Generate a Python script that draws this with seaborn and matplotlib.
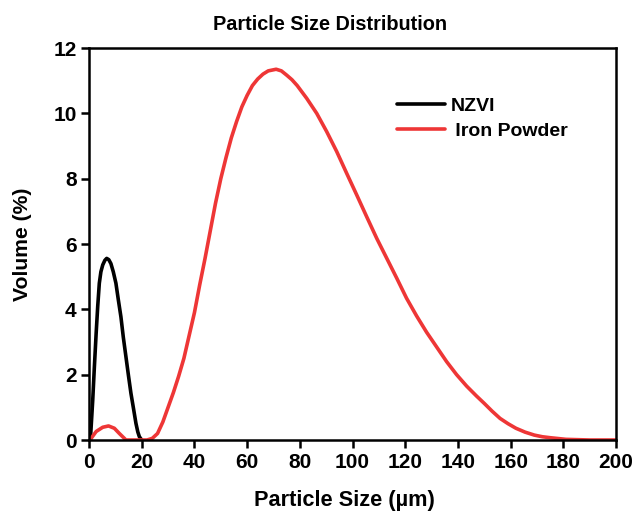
import matplotlib

matplotlib.use("Agg")
import matplotlib.pyplot as plt
import pandas as pd
import seaborn as sns

# values
nzvi_size = [0, 0.5, 1.4, 2.0, 2.7, 3.3, 3.9, 4.5, 5.2, 6.0, 6.7, 7.5, 8.3, 9.2, 10.2,
             11.1, 12.1, 13.0, 14.0, 15.0, 15.9, 16.9, 17.8, 18.5, 19.1, 20]
nzvi_volume = [0, 0, 1.22, 2.2, 3.27, 4.1, 4.8, 5.15, 5.36, 5.5, 5.56, 5.52, 5.4, 5.15,
               4.8, 4.3, 3.77, 3.15, 2.55, 1.95, 1.43, 0.95, 0.51, 0.25, 0.1, 0]

iron_size = [0, 0.8, 2.7, 5.2, 7.4, 9.6, 11.5, 13.4, 14, 16, 20, 22, 24, 26, 28, 30,
             32, 34, 36, 38, 40, 42, 44, 46, 48, 50, 52, 54, 56, 58, 60, 62, 64, 66,
             68, 71, 73, 75, 77, 79, 82.6, 86.4, 90.2, 94, 97.8, 101.6, 105.4, 109.2,
             113, 116.8, 120.5, 124.3, 128.1, 131.9, 135.7, 139.5, 143.3, 147, 150,
             153, 156, 159, 162, 165.5, 169, 172, 175, 181, 190, 200]
iron_volume = [0, 0.05, 0.26, 0.39, 0.43, 0.36, 0.2, 0.05, 0, 0, 0, 0, 0.05, 0.2, 0.55,
               1.0, 1.45, 1.95, 2.5, 3.2, 3.9, 4.75, 5.55, 6.4, 7.25, 8.0, 8.65, 9.25,
               9.75, 10.2, 10.55, 10.85, 11.05, 11.2, 11.3, 11.35, 11.3, 11.17, 11.03,
               10.85, 10.46, 10.0, 9.44, 8.83, 8.16, 7.5, 6.83, 6.17, 5.56, 4.95, 4.34,
               3.8, 3.3, 2.85, 2.4, 2.0, 1.65, 1.35, 1.12, 0.88, 0.66, 0.5, 0.36, 0.24,
               0.15, 0.1, 0.07, 0.02, 0, 0]

series_names = ["NZVI", "Iron Powder"]
legend_labels = ["NZVI", " Iron Powder"]
series_colors = ["#000000", "#EE3636"]

df = pd.concat(
    [
        pd.DataFrame({"size": nzvi_size, "volume": nzvi_volume, "sample": "NZVI"}),
        pd.DataFrame({"size": iron_size, "volume": iron_volume, "sample": "Iron Powder"}),
    ],
    ignore_index=True,
)

sns.set_style("ticks")
plt.rcParams["font.family"] = ["Liberation Sans", "DejaVu Sans"]
plt.rcParams["font.weight"] = "bold"
plt.rcParams["lines.solid_joinstyle"] = "round"
for key in ["text.color", "axes.labelcolor", "xtick.color", "ytick.color", "axes.edgecolor"]:
    plt.rcParams[key] = "black"

fig = plt.figure(figsize=(6.36, 5.13), dpi=100)
ax = fig.add_axes([0.14, 0.1423, 0.8286, 0.7641])

sns.lineplot(
    data=df, x="size", y="volume", hue="sample", hue_order=series_names,
    palette=dict(zip(series_names, series_colors)), estimator=None,
    linewidth=2.6, ax=ax, legend=False,
)

ax.set_xlim(0, 200)
ax.set_ylim(0, 12)
ax.set_xticks(range(0, 201, 20))
ax.set_yticks(range(0, 13, 2))
ax.tick_params(direction="out", length=6, width=1.8, labelsize=15, pad=3,
               color="black", labelcolor="black")
for lbl in ax.get_xticklabels() + ax.get_yticklabels():
    lbl.set_fontweight("bold")
for spine in ax.spines.values():
    spine.set_linewidth(1.8)
    spine.set_color("black")

ax.set_xlabel("Particle Size (µm)", fontsize=15.7, fontweight="bold", va="top")
ax.xaxis.set_label_coords(0.484, -0.128)
ax.set_ylabel("Volume (%)", fontsize=15.2, fontweight="bold")
ax.yaxis.set_label_coords(-0.108, 0.5)

fig.text(330 / 636, 1 - 25 / 513, "Particle Size Distribution", fontsize=14.3,
         fontweight="bold", ha="center", va="center")

handles = ax.get_lines()[:2]
ax.legend(handles, legend_labels, loc="upper left", bbox_to_anchor=(0.584, 0.875),
          frameon=False, borderpad=0, borderaxespad=0, handlelength=2.5,
          handletextpad=0.25, labelspacing=0.4, prop={"size": 14, "weight": "bold"})

fig.savefig("out.png", dpi=100)
